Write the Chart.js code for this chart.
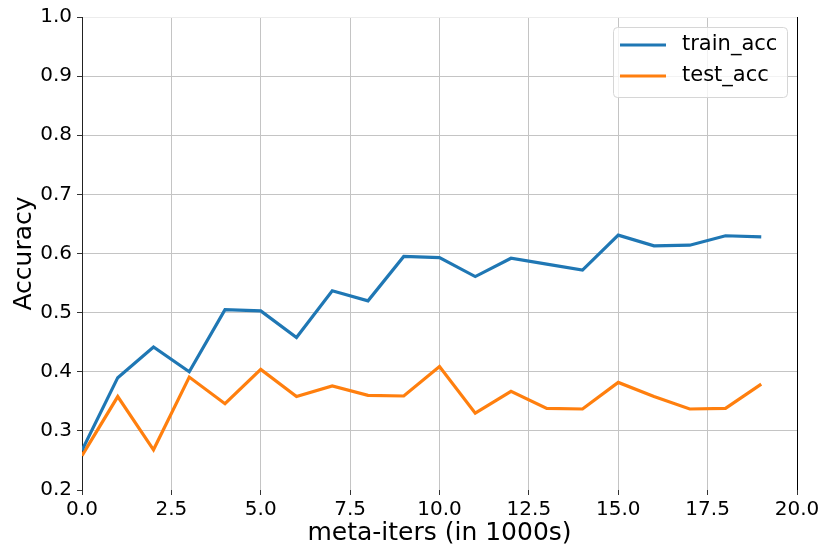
<!DOCTYPE html>
<html>
<head>
<meta charset="utf-8">
<script src="https://cdn.jsdelivr.net/npm/chart.js@4.4.1/dist/chart.umd.min.js"></script>
<style>
  html, body { margin: 0; padding: 0; background: #fff; }
  #wrap { width: 825px; height: 550px; }
</style>
</head>
<body>
<div id="wrap"><canvas id="lineChart" width="825" height="550"></canvas></div>
<script>
// datos
var metaIters = [0, 1, 2, 3, 4, 5, 6, 7, 8, 9, 10, 11, 12, 13, 14, 15, 16, 17, 18, 19];
var trainAcc = [0.267, 0.390, 0.442, 0.400, 0.505, 0.503, 0.458, 0.537, 0.520, 0.595,
                0.593, 0.561, 0.592, 0.582, 0.572, 0.631, 0.613, 0.614, 0.630, 0.628];
var testAcc  = [0.258, 0.358, 0.268, 0.391, 0.346, 0.404, 0.358, 0.376, 0.360, 0.359,
                0.409, 0.330, 0.367, 0.338, 0.337, 0.382, 0.358, 0.337, 0.338, 0.379];
var seriesNames = ["train_acc", "test_acc"];
var xTicks = [0, 2.5, 5, 7.5, 10, 12.5, 15, 17.5, 20];
var yTicks = [0.2, 0.3, 0.4, 0.5, 0.6, 0.7, 0.8, 0.9, 1.0];

var fuente = "'DejaVu Sans', sans-serif";

function puntos(ys){
  var out = [];
  for(var i=0;i<metaIters.length;i++){ out.push({x: metaIters[i], y: ys[i]}); }
  return out;
}

// borde derecho y leyenda con caja
var extras = {
  id: 'extras',
  afterDraw: function(chart){
    var ctx = chart.ctx, a = chart.chartArea;
    ctx.save();
    ctx.strokeStyle = '#000';
    ctx.lineWidth = 1;
    ctx.beginPath();
    ctx.moveTo(a.right + 0.5, a.top);
    ctx.lineTo(a.right + 0.5, a.bottom);
    ctx.stroke();

    var bx = 613, by = 27, bw = 174, bh = 70;
    ctx.fillStyle = 'rgba(255,255,255,0.8)';
    ctx.strokeStyle = '#d6d6d6';
    ctx.lineWidth = 1;
    ctx.beginPath();
    ctx.roundRect(bx + 0.5, by + 0.5, bw, bh, 4);
    ctx.fill();
    ctx.stroke();
    ctx.font = "21px " + fuente;
    ctx.textBaseline = 'middle';
    chart.data.datasets.forEach(function(ds, i){
      var yy = by + 18 + i * 31;
      ctx.strokeStyle = ds.borderColor;
      ctx.lineWidth = 3;
      ctx.beginPath();
      ctx.moveTo(bx + 7, yy);
      ctx.lineTo(bx + 53, yy);
      ctx.stroke();
      ctx.fillStyle = '#000';
      ctx.fillText(ds.label, bx + 69, yy);
    });
    ctx.restore();
  }
};

var ctxL = document.getElementById("lineChart").getContext('2d');
var miGrafico = new Chart(ctxL, {
  type: 'line',
  data: {
    datasets: [
      {
        label: seriesNames[0],
        data: puntos(trainAcc),
        borderColor: '#1f77b4',
        borderWidth: 3.2,
        pointRadius: 0,
        fill: false,
        tension: 0
      },
      {
        label: seriesNames[1],
        data: puntos(testAcc),
        borderColor: '#ff7f0e',
        borderWidth: 3.2,
        pointRadius: 0,
        fill: false,
        tension: 0
      }
    ]
  },
  options: {
    responsive: false,
    animation: false,
    layout: { padding: { top: 17, right: 28, bottom: 0, left: 0 } },
    plugins: {
      legend: { display: false },
      tooltip: { enabled: false }
    },
    scales: {
      x: {
        type: 'linear',
        min: 0, max: 20,
        afterBuildTicks: function(ax){ ax.ticks = xTicks.map(function(v){ return {value: v}; }); },
        afterFit: function(ax){ ax.height = 60; },
        ticks: {
          color: '#000',
          font: { family: fuente, size: 20 },
          padding: 3,
          maxRotation: 0,
          callback: function(v){ return Number(v).toFixed(1); }
        },
        grid: { color: '#c4c4c4', lineWidth: 1, tickLength: 5, tickColor: '#333' },
        border: { display: false },
        title: {
          display: true,
          text: 'meta-iters (in 1000s)',
          color: '#000',
          font: { family: fuente, size: 25 },
          padding: { top: 0, bottom: 2 }
        }
      },
      y: {
        min: 0.2, max: 1.0,
        afterBuildTicks: function(ax){ ax.ticks = yTicks.map(function(v){ return {value: v}; }); },
        afterFit: function(ax){ ax.width = 82; },
        ticks: {
          color: '#000',
          font: { family: fuente, size: 20 },
          padding: 5,
          callback: function(v){ return Number(v).toFixed(1); }
        },
        grid: {
          color: function(c){
            if(c.tick && c.tick.value <= 0.2) return 'rgba(0,0,0,0)';
            if(c.tick && c.tick.value >= 1.0) return '#ececec';
            return '#c4c4c4';
          },
          lineWidth: 1, tickLength: 5, tickColor: '#333'
        },
        border: { color: '#222', width: 1 },
        title: {
          display: true,
          text: 'Accuracy',
          color: '#000',
          font: { family: fuente, size: 25 },
          padding: { top: 9, bottom: 0 }
        }
      }
    }
  },
  plugins: [extras]
});
</script>
</body>
</html>
